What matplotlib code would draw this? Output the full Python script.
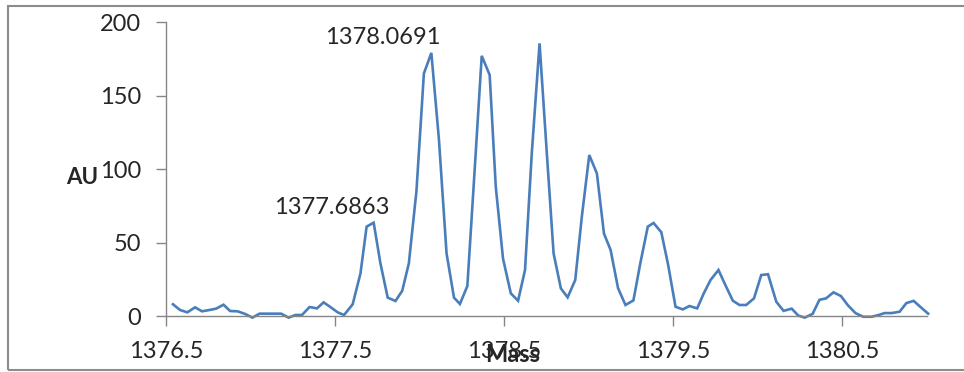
import matplotlib
matplotlib.use("Agg")
import matplotlib.pyplot as plt
from matplotlib.patches import Rectangle

# spectrum points (mass, intensity)
mass = [
    1376.541, 1376.583, 1376.626, 1376.672, 1376.713, 1376.757, 1376.796, 1376.840,
    1376.879, 1376.923, 1376.968, 1377.011, 1377.053, 1377.097, 1377.140, 1377.181,
    1377.225, 1377.266, 1377.304, 1377.349, 1377.393, 1377.432, 1377.472, 1377.515,
    1377.553, 1377.604, 1377.650, 1377.6863, 1377.728, 1377.768, 1377.811, 1377.857,
    1377.897, 1377.936, 1377.981, 1378.025, 1378.0691, 1378.114, 1378.159, 1378.203,
    1378.238, 1378.282, 1378.325, 1378.367, 1378.414, 1378.450, 1378.493, 1378.539,
    1378.582, 1378.623, 1378.663, 1378.709, 1378.752, 1378.792, 1378.835, 1378.875,
    1378.920, 1378.959, 1379.003, 1379.048, 1379.090, 1379.129, 1379.173, 1379.217,
    1379.264, 1379.305, 1379.349, 1379.383, 1379.429, 1379.469, 1379.513, 1379.556,
    1379.595, 1379.641, 1379.680, 1379.720, 1379.767, 1379.808, 1379.852, 1379.891,
    1379.931, 1379.977, 1380.020, 1380.060, 1380.109, 1380.152, 1380.200, 1380.239,
    1380.277, 1380.324, 1380.364, 1380.403, 1380.447, 1380.491, 1380.531, 1380.577,
    1380.623, 1380.672, 1380.712, 1380.749, 1380.790, 1380.838, 1380.878, 1380.921,
    1380.964, 1381.007,
]
au = [
    8.0, 4.1, 2.5, 5.9, 3.2, 4.1, 5.0, 7.7,
    3.4, 3.2, 1.4, -1.1, 1.6, 1.6, 1.6, 1.6,
    -1.1, 0.7, 0.7, 6.1, 5.2, 9.3, 6.1, 2.5,
    0.7, 8.0, 29.0, 60.8, 63.5, 35.8, 12.5, 10.2,
    17.2, 35.8, 85.0, 165.0, 179.0, 120.0, 42.6, 12.5,
    8.2, 20.4, 99.0, 177.0, 164.0, 88.0, 39.0, 15.4,
    10.4, 31.3, 110.7, 185.5, 110.7, 42.6, 18.8, 12.7,
    24.5, 67.6, 109.5, 97.0, 56.0, 45.0, 19.0, 7.5,
    10.6, 36.0, 60.8, 63.3, 57.0, 35.0, 6.3, 4.5,
    6.8, 5.2, 15.4, 24.5, 31.3, 21.0, 10.4, 7.5,
    7.5, 12.0, 27.9, 28.4, 9.7, 3.5, 5.0, 0.3,
    -1.1, 1.5, 11.0, 12.0, 16.1, 13.6, 7.5, 2.0,
    -0.5, -0.5, 0.6, 2.0, 2.0, 2.9, 8.8, 10.3,
    5.9, 1.6,
]
labelled = [1378.0691, 1377.6863]
label_offsets = [(9, 15), (23, 19)]

x_ticks = [1376.5, 1377.5, 1378.5, 1379.5, 1380.5]
y_ticks = [0, 50, 100, 150, 200]

plt.rcParams["font.family"] = ["Lato", "DejaVu Sans"]
txt = "#262626"
axcol = "#868686"

fig = plt.figure(figsize=(9.64, 3.72), dpi=100)
ax = fig.add_axes([0.1722, 0.1505, 0.7894, 0.7903])

ax.plot(mass, au, color="#4A7EBB", lw=1.9, clip_on=False, solid_joinstyle="miter")

for m, (dx, dy) in zip(labelled, label_offsets):
    v = au[mass.index(m)]
    ax.annotate(f"{m:.4f}", xy=(m, v), xytext=(dx, dy), textcoords="offset pixels",
                ha="right", va="center", fontsize=17, color=txt)

ax.set_xlim(1376.5, 1381.0)
ax.set_ylim(0, 200)
ax.set_xticks(x_ticks)
ax.set_xticklabels([f"{t:.1f}" for t in x_ticks])
ax.set_yticks(y_ticks)
ax.tick_params(axis="both", colors=axcol, labelcolor=txt, labelsize=17,
               length=7, width=1, direction="out")
ax.tick_params(axis="x", pad=11)
ax.tick_params(axis="y", pad=11)
for side in ["top", "right"]:
    ax.spines[side].set_visible(False)
for side in ["left", "bottom"]:
    ax.spines[side].set_color(axcol)
    ax.spines[side].set_linewidth(1)

fig.text(82 / 964, 1 - 178 / 372, "AU", ha="center", va="center",
         fontsize=16, fontweight="bold", color=txt)
fig.text(513 / 964, 1 - 355 / 372, "Mass", ha="center", va="center",
         fontsize=17, fontweight="bold", color=txt)

# chart border
fig.patches.append(Rectangle((8 / 964, 2 / 372), 1.2, 1 - 8 / 372, transform=fig.transFigure,
                             fill=False, edgecolor="#8c8c8c", lw=1.5))

fig.savefig("out.png", dpi=100)
